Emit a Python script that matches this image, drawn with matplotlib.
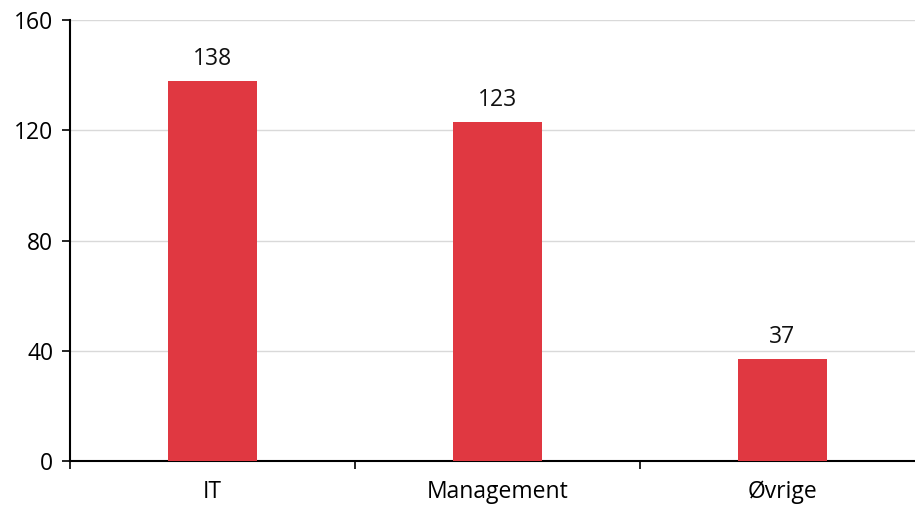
import numpy as np
import matplotlib.pyplot as plt

plt.rcParams['font.family'] = ['Open Sans', 'DejaVu Sans']

categories = ["IT", "Management", "Øvrige"]
values = [138, 123, 37]
y_ticks = [0, 40, 80, 120, 160]

fig = plt.figure(figsize=(9.15, 5.05), dpi=100)
ax = fig.add_axes([70 / 915, 1 - 461 / 505, 845 / 915, 441 / 505])

x = np.arange(len(categories))
ax.bar(x, values, width=0.31, color="#e03841", zorder=3)
for xi, v in zip(x, values):
    ax.text(xi, v + 3.5, str(v), ha="center", va="bottom", fontsize=16.5, color="#111111")

ax.set_xlim(-0.5, 2.465)
ax.set_ylim(0, 160)
ax.set_yticks(y_ticks)
ax.set_xticks([-0.5, 0.5, 1.5])
ax.set_xticklabels([])
ax.set_xticks(x, minor=True)
ax.set_xticklabels(categories, minor=True)
ax.tick_params(axis="x", which="minor", length=0, pad=14, labelsize=16.5)
ax.tick_params(axis="x", which="major", length=6, width=1.2, direction="out")
ax.tick_params(axis="y", length=6, width=1.2, labelsize=16.5, pad=6)

ax.grid(axis="y", color="#d9d9d9", linewidth=1, zorder=0)
for s in ["top", "right"]:
    ax.spines[s].set_visible(False)
ax.spines["left"].set_linewidth(1.5)
ax.spines["bottom"].set_linewidth(1.5)

fig.savefig("out.png", dpi=100)
